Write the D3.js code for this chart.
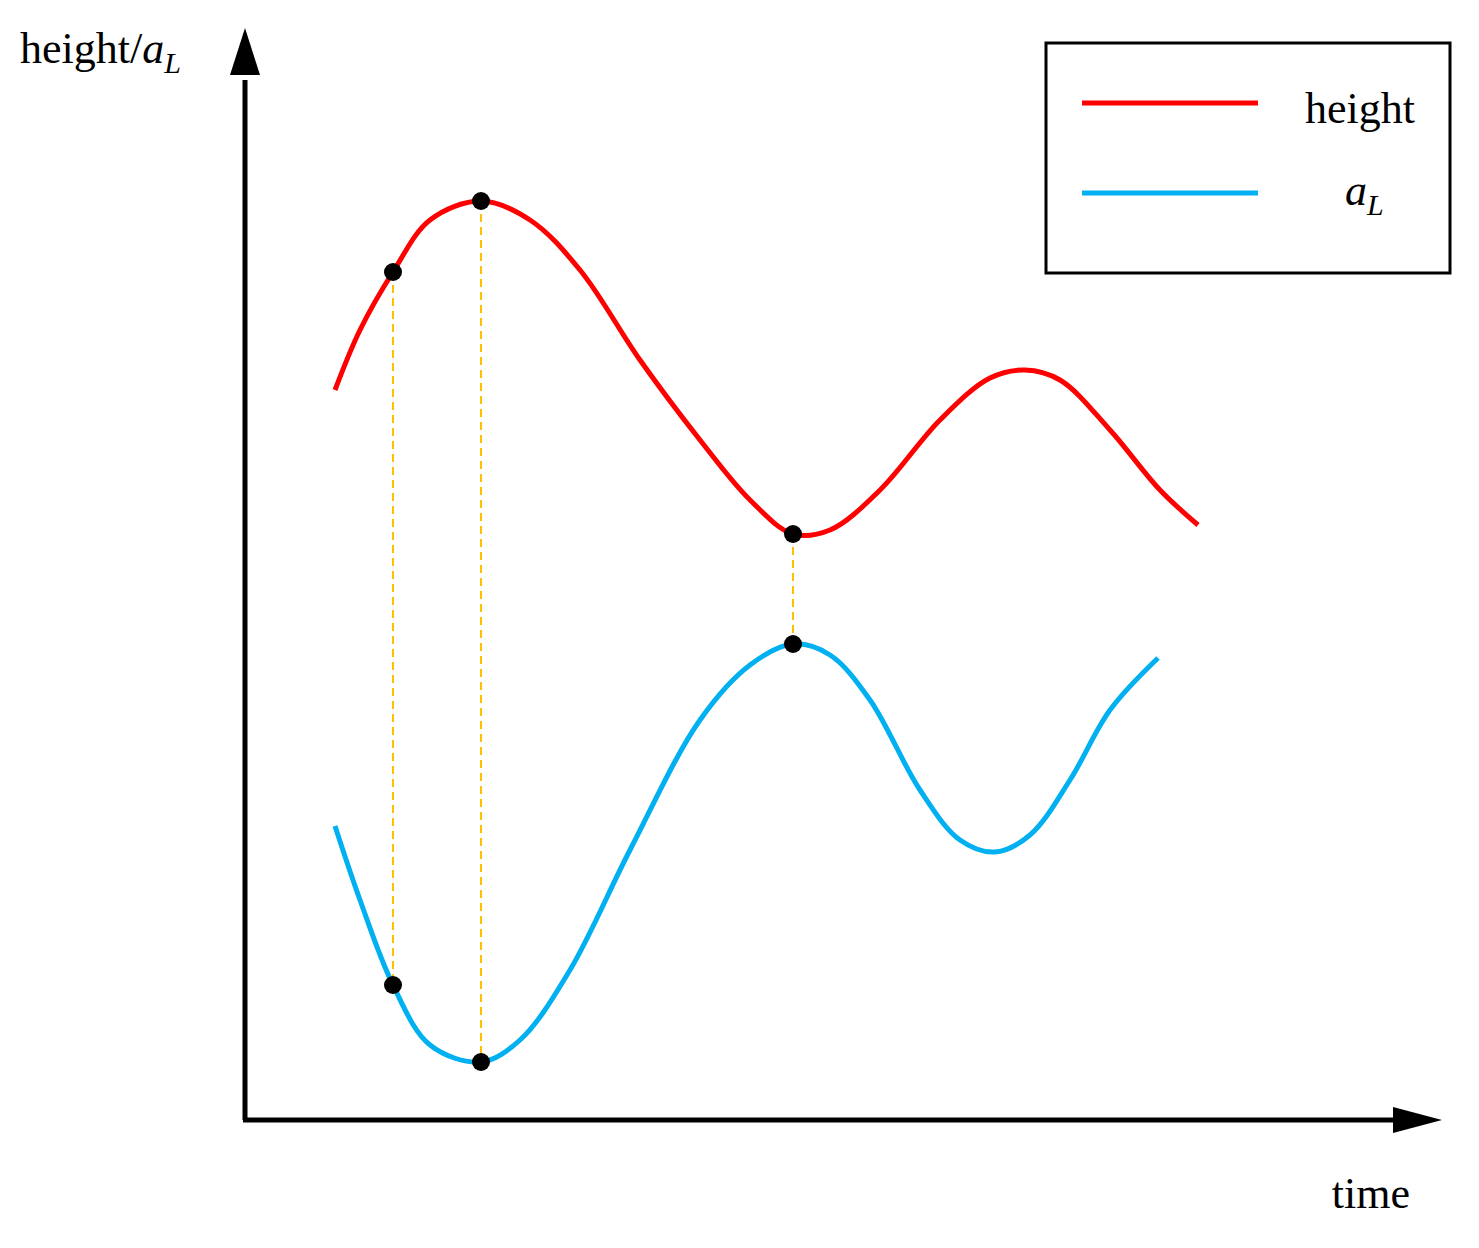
<!DOCTYPE html><html><head><meta charset="utf-8"><script src="https://cdn.jsdelivr.net/npm/d3@7"></script>
<style>body{margin:0;background:#fff}</style></head><body><svg id="c" width="1479" height="1248"></svg>
<script>
const heightT=[90,115,148,185,236,285,335,395,455,505,548,585,635,695,745,780,815,865,915,953];
const heightV=[730,790,848,900,919,900,850,760,680,620,586,590,630,700,742,750,740,690,630,595];
const aLT=[90,115,148,185,236,275,325,385,455,505,548,585,625,675,715,750,785,825,865,913];
const aLV=[294,220,135,75,58,80,150,270,400,455,476,465,420,330,280,268,285,340,410,462];
const markT=[148,236,548];
const legendLabels=["height","aL"];
const colors={height:"#FF0000",aL:"#00B0F0"};
const svg=d3.select("#c");
const x=d3.scaleLinear().domain([0,1200]).range([245,1445]);
const y=d3.scaleLinear().domain([0,1100]).range([1120,20]);
const font="'Liberation Serif','Times New Roman',serif";
const line=d3.line().x(d=>x(d[0])).y(d=>y(d[1])).curve(d3.curveCatmullRom);
const hd=heightT.map((t,i)=>[t,heightV[i]]), ad=aLT.map((t,i)=>[t,aLV[i]]);
function valAt(data,t){const p=data.find(d=>d[0]===t);return p?p[1]:0;}
markT.forEach(t=>{svg.append("line").attr("x1",x(t)).attr("x2",x(t)).attr("y1",y(valAt(hd,t))).attr("y2",y(valAt(ad,t)))
 .attr("stroke","#FFC000").attr("stroke-width",2).attr("stroke-dasharray","8,5");});
svg.append("path").attr("d",line(hd)).attr("fill","none").attr("stroke",colors.height).attr("stroke-width",5);
svg.append("path").attr("d",line(ad)).attr("fill","none").attr("stroke",colors.aL).attr("stroke-width",5);
markT.forEach(t=>{[hd,ad].forEach(d=>svg.append("circle").attr("cx",x(t)).attr("cy",y(valAt(d,t))).attr("r",9).attr("fill","#000"));});
svg.append("path").attr("d",`M${x(0)},${y(0)}L${x(0)},${y(1040)}`).attr("stroke","#000").attr("stroke-width",5).attr("fill","none");
svg.append("path").attr("d",`M${x(0)-2},${y(0)}L${x(1150)},${y(0)}`).attr("stroke","#000").attr("stroke-width",5).attr("fill","none");
svg.append("path").attr("d",`M${x(0)},${y(1092)}L${x(0)-15},${y(1045)}L${x(0)+15},${y(1045)}Z`).attr("fill","#000");
svg.append("path").attr("d",`M${x(1197)},${y(0)}L${x(1148)},${y(13)}L${x(1148)},${y(-13)}Z`).attr("fill","#000");
const t1=svg.append("text").attr("x",20).attr("y",63).attr("font-family",font).attr("font-size",44);
t1.append("tspan").text("height/");t1.append("tspan").attr("font-style","italic").text("a");
t1.append("tspan").attr("font-style","italic").attr("font-size",30).attr("dy",10).text("L");
svg.append("text").attr("x",1410).attr("y",1208).attr("text-anchor","end").attr("font-family",font).attr("font-size",44).text("time");
svg.append("rect").attr("x",1046).attr("y",43).attr("width",404).attr("height",230).attr("fill","none").attr("stroke","#000").attr("stroke-width",3);
svg.append("line").attr("x1",1082).attr("x2",1258).attr("y1",103).attr("y2",103).attr("stroke",colors.height).attr("stroke-width",5);
svg.append("line").attr("x1",1082).attr("x2",1258).attr("y1",193).attr("y2",193).attr("stroke",colors.aL).attr("stroke-width",5);
svg.append("text").attr("x",1305).attr("y",123).attr("font-family",font).attr("font-size",44).text(legendLabels[0]);
const t2=svg.append("text").attr("x",1345).attr("y",205).attr("font-family",font).attr("font-size",44);
t2.append("tspan").attr("font-style","italic").text("a");
t2.append("tspan").attr("font-style","italic").attr("font-size",30).attr("dy",10).text("L");
</script></body></html>
